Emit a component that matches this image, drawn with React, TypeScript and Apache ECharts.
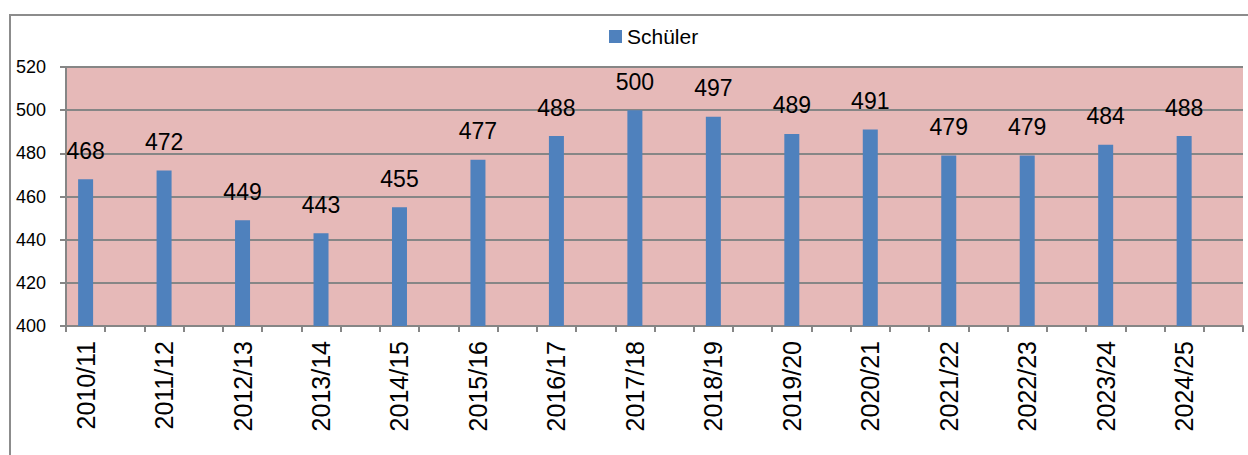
import React, { useEffect, useRef } from "react";
import * as echarts from "echarts";

const seasons = [
  "2010/11", "2011/12", "2012/13", "2013/14", "2014/15", "2015/16", "2016/17", "2017/18",
  "2018/19", "2019/20", "2020/21", "2021/22", "2022/23", "2023/24", "2024/25",
];
const schueler = [468, 472, 449, 443, 455, 477, 488, 500, 497, 489, 491, 479, 479, 484, 488];
const seriesName = "Schüler";
const yMin = 400;
const yMax = 520;
const yStep = 20;

const FONT = "Liberation Sans";

export default function App() {
  const ref = useRef<HTMLDivElement>(null);
  useEffect(() => {
    if (!ref.current) return;
    const chart = echarts.init(ref.current, null, { renderer: "svg" });
    // interleave each season with an empty slot (as in the original)
    const cats: string[] = [];
    const vals: (number | null)[] = [];
    seasons.forEach((s, i) => {
      cats.push(s);
      vals.push(schueler[i]);
      cats.push("gap" + i);
      vals.push(null);
    });
    chart.setOption({
      animation: false,
      backgroundColor: "#ffffff",
      textStyle: { fontFamily: FONT },
      graphic: [
        {
          type: "rect",
          shape: { x: 10, y: 15, width: 1250, height: 450 },
          style: { fill: "none", stroke: "#8c8c8c", lineWidth: 2 },
          silent: true,
          z: -1,
        },
      ],
      legend: {
        show: true,
        left: 604,
        top: 21,
        itemWidth: 13,
        itemHeight: 13,
        itemGap: 5,
        icon: "rect",
        textStyle: { fontSize: 21, color: "#000", fontFamily: FONT },
        data: [seriesName],
      },
      grid: {
        left: 66,
        right: 5,
        top: 67,
        bottom: 129,
        show: true,
        backgroundColor: "#E6B9B8",
        borderWidth: 0,
      },
      xAxis: {
        type: "category",
        data: cats,
        boundaryGap: true,
        axisLine: { show: true, lineStyle: { color: "#868686", width: 2 } },
        axisTick: { show: true, interval: 0, length: 6, lineStyle: { color: "#868686", width: 2 } },
        axisLabel: {
          interval: 0,
          rotate: 90,
          margin: 15,
          fontSize: 25,
          color: "#000",
          fontFamily: FONT,
          formatter: (v: string) => (v.startsWith("gap") ? "" : v),
        },
      },
      yAxis: {
        type: "value",
        min: yMin,
        max: yMax,
        interval: yStep,
        axisLine: { show: true, lineStyle: { color: "#868686", width: 2 } },
        axisTick: { show: true, length: 6, lineStyle: { color: "#868686", width: 2 } },
        axisLabel: { fontSize: 18, color: "#000", margin: 20, fontFamily: FONT },
        splitLine: { show: true, lineStyle: { color: "#868686", width: 2 } },
      },
      series: [
        {
          name: seriesName,
          type: "bar",
          data: vals,
          barWidth: 15,
          itemStyle: { color: "#4F81BD" },
          label: {
            show: true,
            position: "top",
            distance: 17,
            fontSize: 23,
            color: "#000",
            fontFamily: FONT,
          },
        },
      ],
    });
    return () => chart.dispose();
  }, []);
  return (
    <div
      ref={ref}
      style={{ position: "fixed", left: 0, top: 0, width: 1248, height: 455 }}
    />
  );
}
